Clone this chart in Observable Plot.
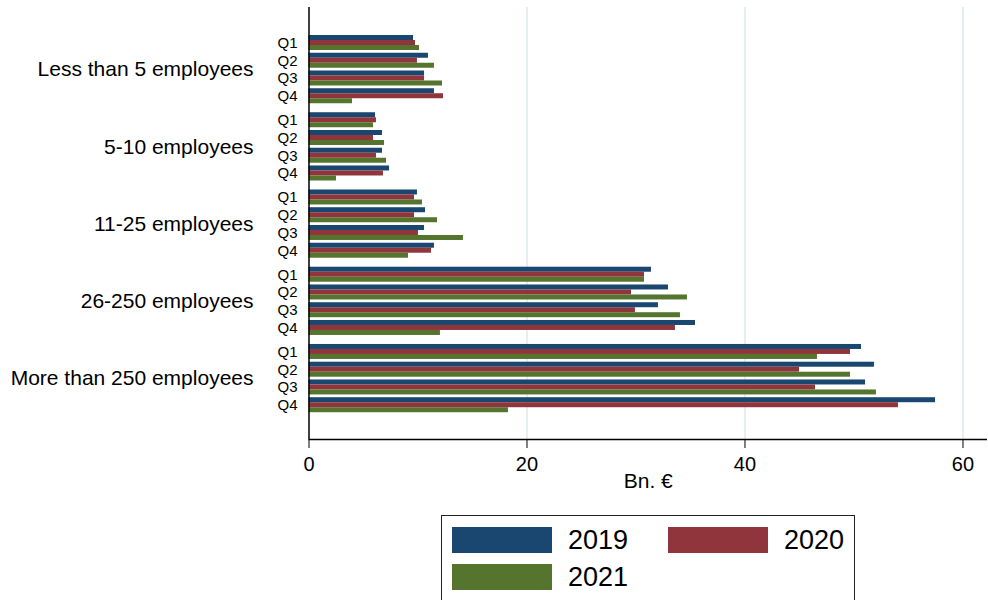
<!DOCTYPE html>
<html>
<head>
<meta charset="utf-8">
<script src="https://cdn.jsdelivr.net/npm/d3@7"></script>
<script src="https://cdn.jsdelivr.net/npm/@observablehq/plot@0.6"></script>
<style>
  html, body { margin: 0; padding: 0; background: white; }
  body { width: 988px; height: 600px; overflow: hidden; position: relative; font-family: "Liberation Sans", Arial, sans-serif; }
  #legend { position: absolute; left: 441px; top: 515px; width: 414px; height: 110px; border: 1px solid #222; box-sizing: border-box; }
  .item { position: absolute; display: flex; align-items: center; height: 26px; }
  .sw { width: 100px; height: 26px; margin-right: 16px; }
  .lab { font-size: 27px; color: #000; line-height: 26px; }
</style>
</head>
<body>
<div id="chart"></div>
<div id="legend"></div>
<script>
const groups = ["Less than 5 employees", "5-10 employees", "11-25 employees", "26-250 employees", "More than 250 employees"];
const quarters = ["Q1", "Q2", "Q3", "Q4"];
const years = ["2019", "2020", "2021"];
const colors = ["#1a476f", "#90353b", "#55752f"];
const xTicks = [0, 20, 40, 60];
const xLabel = "Bn. €";

// values by group, quarter Q1..Q4 (Bn. €)
const v2019 = [9.59, 10.96, 10.6, 11.51,  6.1, 6.74, 6.74, 7.39,  9.95, 10.69, 10.6, 11.51,  31.42, 32.98, 32.06, 35.46,  50.69, 51.88, 51.06, 57.48];
const v2020 = [9.77, 9.95, 10.6, 12.34,   6.19, 5.92, 6.19, 6.83,  9.68, 9.68, 10.04, 11.24,  30.78, 29.59, 29.95, 33.62,  49.68, 45.0, 46.47, 54.08];
const v2021 = [10.14, 11.51, 12.25, 3.99, 5.92, 6.93, 7.11, 2.52,  10.41, 11.79, 14.17, 9.13,  30.78, 34.72, 34.08, 12.06,  46.65, 49.68, 52.06, 18.3];
const series = [v2019, v2020, v2021];

// layout (in quarter-step units)
const TOP = 1.5775, GSTEP = 4.352, BLOCK = 0.845, SPAN = 24.34;

const rows = [];
const qrows = [];
const grows = [];
groups.forEach((g, gi) => {
  grows.push({label: g, yc: TOP + gi * GSTEP + (3 + BLOCK) / 2});
  quarters.forEach((q, qi) => {
    qrows.push({label: q, yc: TOP + gi * GSTEP + qi + BLOCK / 2});
    years.forEach((yr, ki) => {
      const y1 = TOP + gi * GSTEP + qi + ki * BLOCK / 3;
      rows.push({group: g, quarter: q, year: yr, value: series[ki][gi * 4 + qi], y1, y2: y1 + BLOCK / 3});
    });
  });
});

const chart = Plot.plot({
  width: 988,
  height: 505,
  marginTop: 7,
  marginBottom: 66,
  marginLeft: 308.5,
  marginRight: 1,
  style: {fontFamily: '"Liberation Sans", Arial, sans-serif', fontSize: "20px", color: "black", background: "white"},
  x: {domain: [0, 62.25], ticks: xTicks, tickSize: 9, tickPadding: 8, label: null},
  y: {domain: [0, SPAN], reverse: true, axis: null},
  color: {domain: years, range: colors},
  marks: [
    Plot.ruleX(xTicks.filter(d => d > 0), {stroke: "#e6eef1", strokeWidth: 2}),
    Plot.rect(rows, {x1: 0, x2: "value", y1: "y1", y2: "y2", fill: "year"}),
    Plot.ruleX([0], {stroke: "black", strokeWidth: 1.5}),
    Plot.ruleY([SPAN], {stroke: "black", strokeWidth: 1.5}),
    Plot.text(qrows, {x: 0, y: "yc", text: "label", textAnchor: "end", dx: -11.5, fontSize: 15}),
    Plot.text(grows, {x: 0, y: "yc", text: "label", textAnchor: "end", dx: -55.5, fontSize: 21}),
    Plot.text([xLabel], {text: d => d, frameAnchor: "bottom", dy: 48.5, fontSize: 21})
  ]
});
document.getElementById("chart").appendChild(chart);

// legend
const legend = document.getElementById("legend");
const pos = [[10, 11], [226, 11], [10, 48]];
years.forEach((yr, i) => {
  const it = document.createElement("div");
  it.className = "item";
  it.style.left = pos[i][0] + "px";
  it.style.top = pos[i][1] + "px";
  const sw = document.createElement("div");
  sw.className = "sw";
  sw.style.background = colors[i];
  const lab = document.createElement("span");
  lab.className = "lab";
  lab.textContent = yr;
  it.appendChild(sw);
  it.appendChild(lab);
  legend.appendChild(it);
});
</script>
</body>
</html>
